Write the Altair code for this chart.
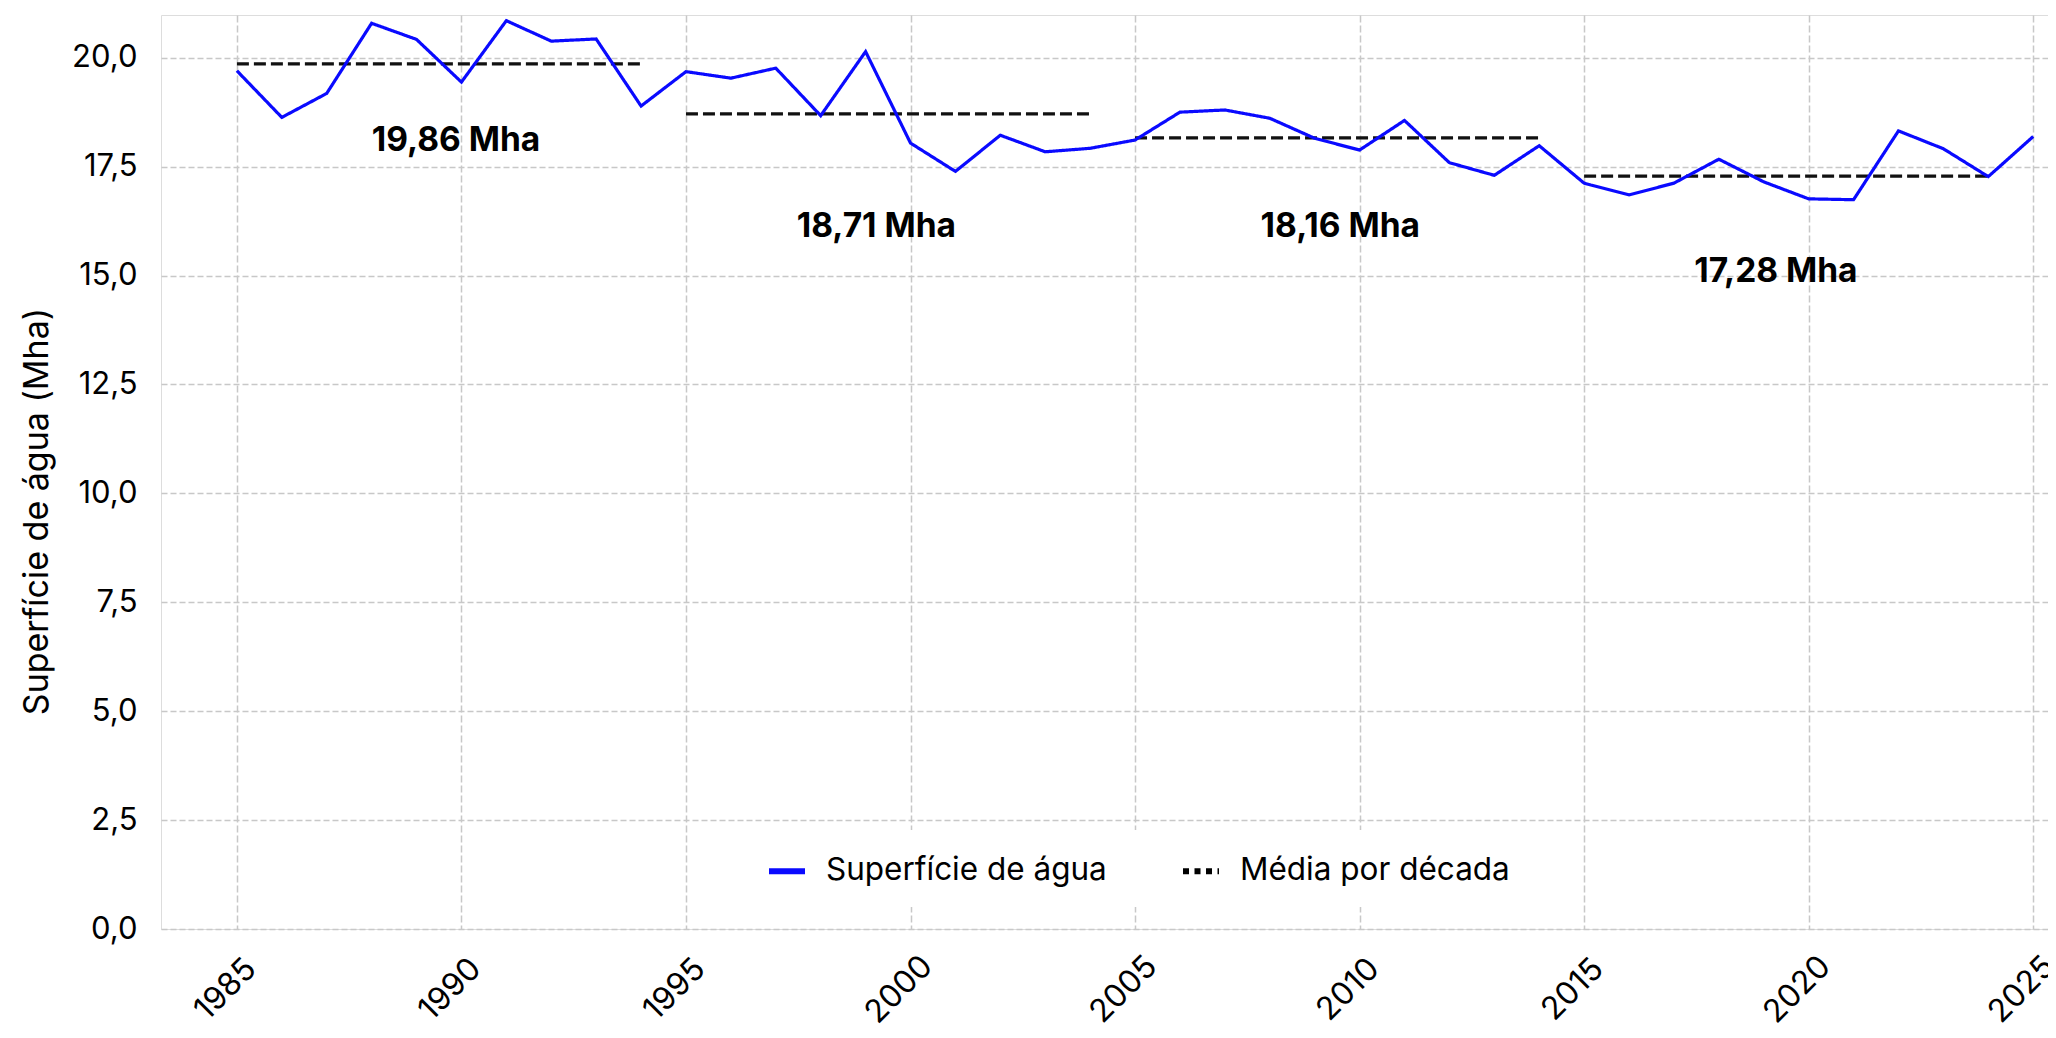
import altair as alt
import pandas as pd

# ---- data ----
years = list(range(1985, 2026))
water = [19.70, 18.63, 19.18, 20.79, 20.42, 19.44, 20.85, 20.38, 20.43, 18.89,
         19.68, 19.53, 19.76, 18.67, 20.14, 18.04, 17.39, 18.22, 17.84, 17.92,
         18.11, 18.75, 18.80, 18.61, 18.15, 17.88, 18.56, 17.59, 17.30, 17.98,
         17.12, 16.85, 17.12, 17.67, 17.15, 16.76, 16.74, 18.32, 17.91, 17.27,
         18.19]

dec_start = [1985, 1995, 2005, 2015]
dec_end = [1994, 2004, 2014, 2024]
dec_mean = [19.86, 18.71, 18.16, 17.28]
label_x = [1989.88, 1999.24, 2009.57, 2019.27]
label_y = [18.09, 16.11, 16.11, 15.07]

x_ticks = [1985, 1990, 1995, 2000, 2005, 2010, 2015, 2020, 2025]
y_ticks = [0, 2.5, 5, 7.5, 10, 12.5, 15, 17.5, 20]

series_names = ["Superfície de água", "Média por década"]

FONT = "Inter"

df_w = pd.DataFrame({"ano": years, "valor": water, "serie": series_names[0]})
df_m = pd.DataFrame({"ini": dec_start, "fim": dec_end, "media": dec_mean})
df_l = pd.DataFrame({
    "lx": label_x, "ly": label_y,
    "txt": [f"{m:.2f}".replace(".", ",") + " Mha" for m in dec_mean],
})

xscale = alt.Scale(domain=[1983.31, 2025.33], nice=False, zero=False)
yscale = alt.Scale(domain=[0, 20.98], nice=False, zero=False)

xaxis = alt.Axis(values=x_ticks, format="d", title=None, labelAngle=-45,
                 labelAlign="center", labelBaseline="middle", labelPadding=60,
                 labelOffset=-12, labelFlush=False, labelOverlap=False,
                 ticks=False, domain=False, grid=True,
                 gridDash=[7, 3], gridColor="#c8c8c8", gridWidth=1.5,
                 labelFont=FONT, labelFontSize=32, labelColor="#000000")
yaxis = alt.Axis(values=y_ticks, title="Superfície de água (Mha)",
                 labelExpr="replace(format(datum.value, '.1f'), '.', ',')",
                 ticks=False, domain=False, grid=True, gridDash=[6, 3],
                 gridColor="#c8c8c8", gridWidth=1.5, labelPadding=24,
                 labelFont=FONT, labelFontSize=31, labelColor="#000000",
                 titleFont=FONT, titleFontSize=34, titleFontWeight="normal",
                 titleColor="#000000", titleAngle=-90, titleBaseline="alphabetic",
                 titleX=-114, titleY=496, titleAlign="center")

legend = alt.Legend(title=None, orient="none", legendX=585, legendY=815,
                    direction="horizontal", symbolType="stroke",
                    symbolSize=1296, symbolStrokeWidth=6, labelFont=FONT,
                    labelFontSize=31.5, labelColor="#000000", labelOffset=18,
                    columnPadding=64, padding=20, fillColor="white",
                    labelLimit=500)

water_line = alt.Chart(df_w).mark_line(strokeWidth=3.2).encode(
    x=alt.X("ano:Q", scale=xscale, axis=xaxis),
    y=alt.Y("valor:Q", scale=yscale, axis=yaxis),
    color=alt.Color("serie:N", scale=alt.Scale(domain=series_names,
                                                range=["#0a0aff", "#000000"]),
                    legend=legend),
    strokeDash=alt.StrokeDash("serie:N", scale=alt.Scale(domain=series_names,
                                                         range=[[1, 0], [6, 5.5]]),
                              legend=legend),
)

mean_rules = alt.Chart(df_m).mark_rule(strokeWidth=3.2, color="#111111",
                                       strokeDash=[12, 5]).encode(
    x=alt.X("ini:Q", scale=xscale),
    x2="fim:Q",
    y=alt.Y("media:Q", scale=yscale),
)

labels = alt.Chart(df_l).mark_text(font=FONT, fontSize=33.5, fontWeight="bold",
                                   color="#000000", align="center",
                                   baseline="middle").encode(
    x=alt.X("lx:Q", scale=xscale),
    y=alt.Y("ly:Q", scale=yscale),
    text="txt:N",
)

chart = alt.layer(mean_rules, water_line, labels).properties(
    width=1887, height=914,
    autosize=alt.AutoSizeParams(type="none"),
    padding={"left": 153, "top": 7, "right": 0, "bottom": 101},
).configure_view(strokeWidth=0).configure(background="white")

chart.save("out.html", embed_options={"renderer": "svg", "actions": False})
